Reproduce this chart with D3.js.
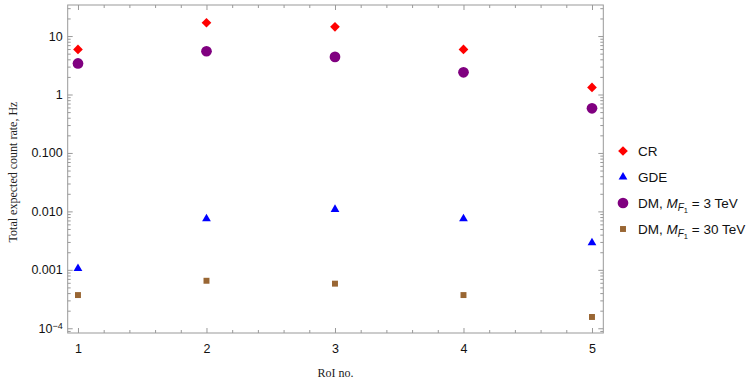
<!DOCTYPE html>
<html>
<head>
<meta charset="utf-8">
<script src="https://cdn.jsdelivr.net/npm/d3@7"></script>
<style>
  body { margin: 0; background: #fff; }
  svg { display: block; }
</style>
</head>
<body>
<svg class="chart"></svg>
<script>
const rois = [1, 2, 3, 4, 5];
const cr = [5.9, 16.9, 14.4, 5.9, 1.32];
const gde = [0.00105, 0.0075, 0.0108, 0.0075, 0.0029];
const dm3 = [3.4, 5.5, 4.4, 2.4, 0.58];
const dm30 = [0.00037, 0.00065, 0.00058, 0.00037, 0.000156];
const yTickValues = [1e-4, 1e-3, 1e-2, 1e-1, 1, 10];
const yTickLabels = ["10^-4", "0.001", "0.010", "0.100", "1", "10"];
const seriesNames = ["CR", "GDE", "DM3", "DM30"];

const width = 756, height = 384;
const plotLeft = 67.7, plotRight = 603.3, plotTop = 5, plotBottom = 333;

const svg = d3.select(".chart").attr("width", width).attr("height", height);

const x = d3.scaleLinear().domain([0.92, 5.088]).range([plotLeft, plotRight]);
const y = d3.scaleLog().domain([8.3e-5, 34]).range([plotBottom, plotTop]);

const frameColor = "#999";
const labelFont = "'Liberation Sans', Arial, sans-serif";

// minor ticks
const xMinor = d3.range(1, 5.01, 0.2).filter(v => Math.abs(v - Math.round(v)) > 1e-6);
const yMinor = [];
for (let e = -5; e <= 1; e++) {
    for (let m = 2; m <= 9; m++) {
        const v = m * Math.pow(10, e);
        if (v >= 8.3e-5 && v <= 34) yMinor.push(v);
    }
}

function styleAxis(g) {
    g.select(".domain").remove();
    g.selectAll(".tick line").attr("stroke", frameColor).attr("stroke-width", 1);
    g.selectAll(".tick text").attr("fill", "#111").attr("font-family", labelFont).attr("font-size", 12.5);
}

// frame
svg.append("rect")
    .attr("x", plotLeft).attr("y", plotTop)
    .attr("width", plotRight - plotLeft).attr("height", plotBottom - plotTop)
    .attr("fill", "none").attr("stroke", frameColor).attr("stroke-width", 1);

// bottom
svg.append("g").attr("transform", `translate(0,${plotBottom})`)
    .call(d3.axisBottom(x).tickValues(rois).tickSize(-5).tickPadding(11).tickFormat(d3.format("d")))
    .call(styleAxis);
svg.append("g").attr("transform", `translate(0,${plotBottom})`)
    .call(d3.axisBottom(x).tickValues(xMinor).tickSize(-3).tickFormat(""))
    .call(styleAxis);
// top
svg.append("g").attr("transform", `translate(0,${plotTop})`)
    .call(d3.axisTop(x).tickValues(rois).tickSize(-5).tickFormat(""))
    .call(styleAxis);
svg.append("g").attr("transform", `translate(0,${plotTop})`)
    .call(d3.axisTop(x).tickValues(xMinor).tickSize(-3).tickFormat(""))
    .call(styleAxis);

// left
const yLeft = svg.append("g").attr("transform", `translate(${plotLeft},0)`)
    .call(d3.axisLeft(y).tickValues(yTickValues).tickSize(-5).tickPadding(5)
        .tickFormat((d, i) => yTickLabels[i]))
    .call(styleAxis);
yLeft.selectAll(".tick text").each(function(d, i) {
    const t = d3.select(this);
    const lab = yTickLabels[i];
    if (lab.includes("^")) {
        const [b, p] = lab.split("^");
        t.text(null);
        t.append("tspan").text(b);
        t.append("tspan").attr("dy", "-0.45em").attr("font-size", 9).text(p.replace("-", "\u2212"));
    }
});
svg.append("g").attr("transform", `translate(${plotLeft},0)`)
    .call(d3.axisLeft(y).tickValues(yMinor).tickSize(-3).tickFormat(""))
    .call(styleAxis);
// right
svg.append("g").attr("transform", `translate(${plotRight},0)`)
    .call(d3.axisRight(y).tickValues(yTickValues).tickSize(-5).tickFormat(""))
    .call(styleAxis);
svg.append("g").attr("transform", `translate(${plotRight},0)`)
    .call(d3.axisRight(y).tickValues(yMinor).tickSize(-3).tickFormat(""))
    .call(styleAxis);

// axis titles
svg.append("text")
    .attr("transform", `translate(17,${(plotTop + plotBottom) / 2 + 3}) rotate(-90)`)
    .attr("text-anchor", "middle")
    .attr("font-family", "'Liberation Serif', 'Times New Roman', serif")
    .attr("font-size", 12).attr("fill", "#222")
    .text("Total expected count rate, Hz");
svg.append("text")
    .attr("x", (plotLeft + plotRight) / 2).attr("y", 377)
    .attr("text-anchor", "middle")
    .attr("font-family", "'Liberation Serif', 'Times New Roman', serif")
    .attr("font-size", 12).attr("fill", "#222")
    .text("RoI no.");

// markers
const symbols = {
    CR: { type: d3.symbolDiamond2, size: 60, color: "#ff0000" },
    GDE: { type: d3.symbolTriangle2, size: 55, color: "#0000ff" },
    DM3: { type: d3.symbolCircle, size: 90, color: "#800080" },
    DM30: { type: d3.symbolSquare2, size: 45, color: "#996633" }
};
const seriesData = { CR: cr, GDE: gde, DM3: dm3, DM30: dm30 };

seriesNames.forEach(name => {
    const s = symbols[name];
    const shape = d3.symbol().type(s.type).size(s.size);
    svg.append("g").selectAll("path")
        .data(rois.map((r, i) => [r, seriesData[name][i]]))
        .enter().append("path")
        .attr("transform", d => `translate(${x(d[0])},${y(d[1])})`)
        .attr("d", shape)
        .attr("fill", s.color);
});

// legend
const legend = svg.append("g").attr("font-family", labelFont).attr("font-size", 13.5).attr("fill", "#111");
seriesNames.forEach((name, i) => {
    const s = symbols[name];
    const yy = 151 + i * 26;
    legend.append("path")
        .attr("transform", `translate(623,${yy})`)
        .attr("d", d3.symbol().type(s.type).size(s.size)())
        .attr("fill", s.color);
    const t = legend.append("text").attr("x", 638).attr("y", yy + 5);
    if (name === "CR" || name === "GDE") {
        t.text(name);
    } else {
        t.append("tspan").text("DM, ");
        t.append("tspan").attr("font-style", "italic").text("M");
        t.append("tspan").attr("font-style", "italic").attr("font-size", 10).attr("dy", 3).text("F");
        t.append("tspan").attr("font-size", 7.5).attr("dy", 2).text("1");
        t.append("tspan").attr("dy", -5).text(name === "DM3" ? " = 3 TeV" : " = 30 TeV");
    }
});
</script>
</body>
</html>
